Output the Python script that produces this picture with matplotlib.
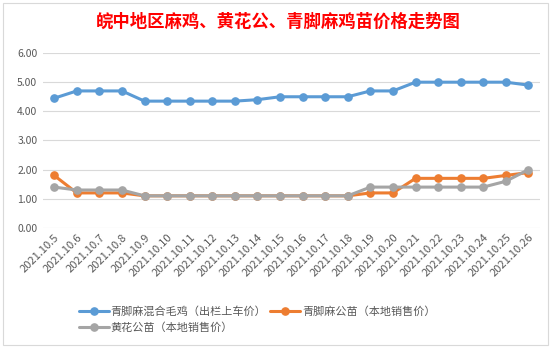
import matplotlib
matplotlib.use('Agg')
import matplotlib.pyplot as plt
from matplotlib.patches import Rectangle

plt.rcParams['font.family'] = ['Noto Sans CJK SC', 'DejaVu Sans']

# --- data ---
dates = ['2021.10.%d' % d for d in range(5, 27)]
mixed_chick = [4.45, 4.7, 4.7, 4.7, 4.35, 4.35, 4.35, 4.35, 4.35, 4.4, 4.5,
               4.5, 4.5, 4.5, 4.7, 4.7, 5.0, 5.0, 5.0, 5.0, 5.0, 4.9]
qingjiao_male = [1.8, 1.2, 1.2, 1.2, 1.1, 1.1, 1.1, 1.1, 1.1, 1.1, 1.1,
                 1.1, 1.1, 1.1, 1.2, 1.2, 1.7, 1.7, 1.7, 1.7, 1.8, 1.9]
huanghua_male = [1.4, 1.3, 1.3, 1.3, 1.1, 1.1, 1.1, 1.1, 1.1, 1.1, 1.1,
                 1.1, 1.1, 1.1, 1.4, 1.4, 1.4, 1.4, 1.4, 1.4, 1.6, 2.0]
series_names = ['青脚麻混合毛鸡（出栏上车价）', '青脚麻公苗（本地销售价）', '黄花公苗（本地销售价）']
y_ticks = [0, 1, 2, 3, 4, 5, 6]

COLORS = ['#5B9BD5', '#ED7D31', '#A5A5A5']
TEXT_GRAY = '#595959'

fig = plt.figure(figsize=(5.57, 3.49), dpi=100)
fig.patch.set_facecolor('white')

# chart area border (excel-like)
fig.add_artist(Rectangle((3 / 557, 1 - 345 / 349), 545 / 557, 342 / 349,
                         transform=fig.transFigure, fill=False,
                         edgecolor='#D9D9D9', linewidth=0.8))

ax = fig.add_axes([0.077, 0.347, 0.892, 0.501])
x = list(range(len(dates)))
handles = []
for vals, name, c in zip([mixed_chick, qingjiao_male, huanghua_male], series_names, COLORS):
    h, = ax.plot(x, vals, color=c, linewidth=2.2, marker='o', markersize=5.2,
                 label=name, solid_capstyle='round')
    handles.append(h)

ax.set_xlim(-0.5, len(dates) - 0.5)
ax.set_ylim(0, 6)
ax.set_yticks(y_ticks)
ax.set_yticklabels(['%.2f' % v for v in y_ticks])
ax.set_xticks(x)
ax.set_xticklabels(dates, rotation=45, ha='right', rotation_mode='anchor')
ax.tick_params(axis='both', length=0, colors=TEXT_GRAY, labelsize=7.5, pad=4)
ax.tick_params(axis='x', labelsize=8, pad=3)
ax.grid(axis='y', color='#D9D9D9', linewidth=0.8)
ax.set_axisbelow(True)
for s in ax.spines.values():
    s.set_visible(False)

fig.text(0.5, 1 - 22 / 349, '皖中地区麻鸡、黄花公、青脚麻鸡苗价格走势图',
         ha='center', va='center', color='#FF0000', fontsize=12.5, fontweight='bold')

leg = fig.legend([handles[0], handles[2], handles[1]],
                 [series_names[0], series_names[2], series_names[1]],
                 ncol=2, loc='upper left', bbox_to_anchor=(73 / 557, 1 - 301 / 349),
                 frameon=False, fontsize=8, handlelength=2.7, labelspacing=0.45,
                 columnspacing=0.3, handletextpad=0.2, borderpad=0)
for t in leg.get_texts():
    t.set_color(TEXT_GRAY)

fig.savefig('out.png', dpi=100)
